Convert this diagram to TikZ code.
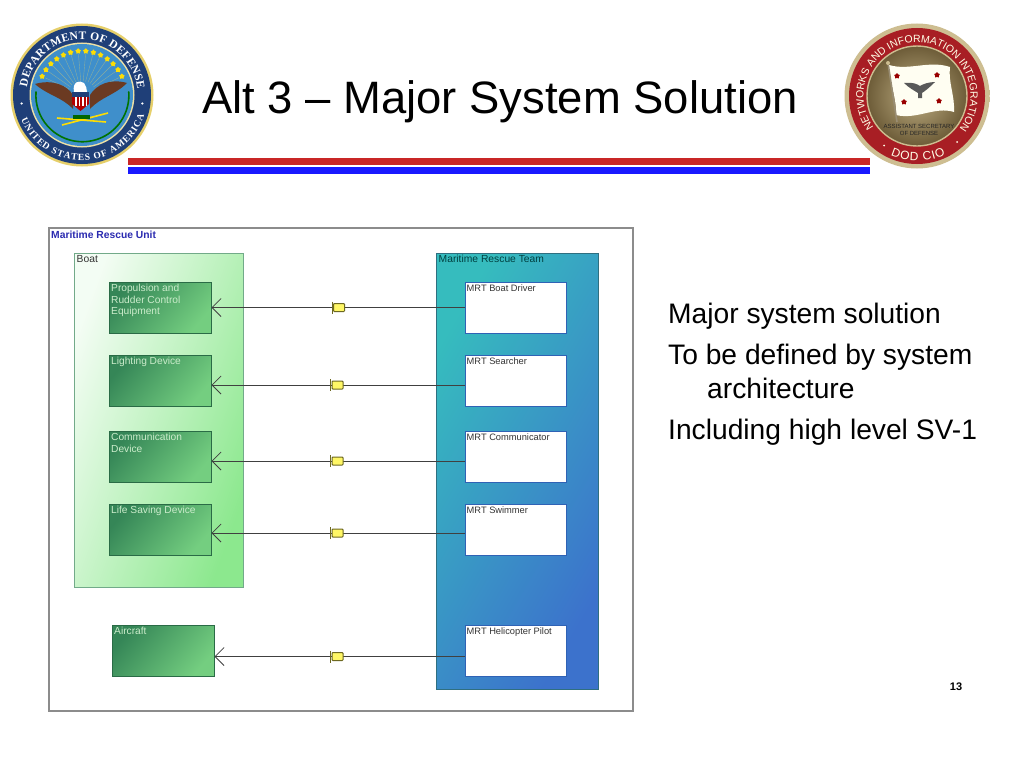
\documentclass[tikz,border=0pt]{standalone}
\usepackage{fontspec}
\setmainfont{Liberation Sans}
\newfontfamily\sealserif{Liberation Serif}
\usetikzlibrary{arrows.meta,decorations.text,shapes.geometric}
\definecolor{dodnavy}{HTML}{1F3F78}
\definecolor{dodblue}{HTML}{3F8FCB}
\definecolor{dodgold}{HTML}{E6CF6A}
\definecolor{ciored}{HTML}{A81E24}
\definecolor{ciogold}{HTML}{CDBD90}
\definecolor{bronze}{HTML}{6D5C38}
\definecolor{eaglebrown}{HTML}{6B3A22}
\definecolor{unitblue}{HTML}{2A2AB0}
\definecolor{boxdark}{HTML}{358657}
\definecolor{boxlight}{HTML}{74CE80}
\definecolor{boatgreen}{HTML}{8CE88E}
\definecolor{teamteal}{HTML}{36BCBE}
\definecolor{teamblue}{HTML}{3C72CC}
\definecolor{teamedge}{HTML}{2F6F80}
\definecolor{mrtedge}{HTML}{2F62B5}
\tikzset{
	greenbox/.style = {draw=boxdark!80!black, line width=1pt, top color=boxdark, bottom color=boxlight, shading angle=50, minimum width=102pt, minimum height=51pt, inner sep=0pt},
	whitebox/.style = {draw=mrtedge, line width=1pt, fill=white, minimum width=101pt, minimum height=51pt, inner sep=0pt},
	boxtext/.style = {anchor=north west, align=left, font=\fontsize{10.2}{11.6}\selectfont, inner sep=0pt, text=green!15!white!85!gray},
	mrttext/.style = {anchor=north west, align=left, font=\fontsize{9.3}{11.6}\selectfont, inner sep=0pt, text=black!80},
	conn/.style = {draw=black!75, line width=1pt, arrows={-{Straight Barb[length=9pt,width=18pt,line width=0.8pt]}}},
	msgicon/.style = {draw=olive!70!black, line width=1pt, fill=yellow!60, rounded corners=0.8pt, minimum width=11pt, minimum height=8pt, inner sep=0pt},
	bodytext/.style = {anchor=base west, font=\fontsize{28.2}{28.2}\selectfont, inner sep=0pt},
	goldstar/.style = {star, star points=5, fill=yellow!80!orange, inner sep=0pt, minimum size=6pt},
	redstar/.style = {star, star points=5, fill=red!60!black, inner sep=0pt, minimum size=6pt}
}
\begin{document}
\begin{tikzpicture}[x=1pt, y=-1pt]
	\useasboundingbox (0,0) rectangle (1024,768);

	\node[anchor=base west, inner sep=0pt, font=\fontsize{45.4}{45.4}\selectfont] (title) at (202,113) {Alt 3 – Major System Solution};
	\fill[red!75!black!85!white] (128,158) rectangle (870,165);
	\fill[blue!90!white] (128,167) rectangle (870,174);

	% left seal
	\begin{scope}[shift={(82,95)}, x=1pt, y=1pt]
		\fill[dodgold] (0,0) circle(71.5pt);
		\fill[dodnavy] (0,0) circle(69pt);
		\fill[dodgold!60] (0,0) circle(52.5pt);
		\fill[dodblue] (0,0) circle(51pt);
		\foreach \a in {25,35,...,155} {
			\draw[dodgold!45!dodblue, line width=0.4pt] (\a:14) -- (\a:41);
			\node[goldstar] at (\a:44) {};
		}
		\draw[green!45!black, line width=1.6pt, line cap=round] (-46,3) arc[start angle=176, end angle=364, radius=46.5pt];
		\fill[eaglebrown] (-47,11) .. controls (-30,16) and (-15,10) .. (-9,0) -- (-9,-14) .. controls (-20,-2) and (-35,0) .. (-47,11);
		\fill[eaglebrown] (45,12) .. controls (28,17) and (14,10) .. (8,0) -- (8,-14) .. controls (19,-2) and (33,0) .. (45,12);
		\fill[white] (-8,3) .. controls (-10,14) and (-2,15) .. (2,12) .. controls (4,9) and (5,6) .. (5,3) -- cycle;
		\fill[dodnavy] (-10,3) rectangle (7,-2);
		\fill[red!70!black] (-10,-2) -- (7,-2) -- (7,-9) -- (-1.5,-16) -- (-10,-9) -- cycle;
		\foreach \sx in {-7,-3.5,0,3.5} {
			\fill[white] (\sx,-2) rectangle ++(1.5,-9);
		}
		\draw[yellow!80!orange, line width=1.6pt] (-25,-23) -- (24,-27);
		\draw[yellow!80!orange, line width=1.6pt] (-20,-30) -- (26,-18);
		\fill[green!40!black] (-9,-20) rectangle (8,-24);
		\draw[decorate, decoration={text along path, text align={fit to path}, text={|\sealserif\bfseries\fontsize{11.5}{11.5}\selectfont\color{white}|DEPARTMENT OF DEFENSE}}] (172:55.5) arc[start angle=172, end angle=6, radius=55.5pt];
		\draw[decorate, decoration={text along path, text align={fit to path}, text={|\sealserif\bfseries\fontsize{9.5}{9.5}\selectfont\color{white}|UNITED STATES OF AMERICA}}] (202:65.5) arc[start angle=202, end angle=342, radius=65.5pt];
		\fill[white] (188:61) circle(1.2pt);
		\fill[white] (-8:61) circle(1.2pt);
	\end{scope}

	% right seal
	\begin{scope}[shift={(917,96)}, x=1pt, y=1pt]
		\shade[inner color=ciogold!60!white, outer color=ciogold] (0,0) circle(72.5pt);
		\fill[ciored] (0,0) circle(68pt);
		\shade[inner color=ciogold!85!bronze, outer color=bronze] (0,0) circle(50pt);
		\draw[ciogold, line width=1.4pt] (0,0) circle(50pt);
		\fill[white!95!yellow] (-28,31) .. controls (-8,25) and (12,36) .. (33,29) .. controls (31,14) and (38,0) .. (37,-16) .. controls (18,-10) and (0,-24) .. (-21,-19) .. controls (-20,-2) and (-28,14) .. cycle;
		\draw[bronze!70!white, line width=1.6pt] (-29,33) -- (-20,-26);
		\fill[ciogold] (-29,33) circle(2pt);
		\node[redstar] at (-20,20) {};
		\node[redstar] at (20,21) {};
		\node[redstar] at (-13,-6) {};
		\node[redstar] at (22,-5) {};
		\fill[black!65] (-13,13) .. controls (-4,14) and (0,12) .. (3,10) .. controls (6,12) and (12,14) .. (18,14) .. controls (12,8) and (8,5) .. (5,3) -- (5,-2) -- (1,-2) -- (1,3) .. controls (-2,5) and (-8,8) .. (-13,13);
		\node[align=center, inner sep=0pt, font=\fontsize{6}{7.5}\selectfont, text=black!85] (office) at (2,-34) {ASSISTANT SECRETARY\\OF DEFENSE};
		\draw[decorate, decoration={text along path, text align={fit to path}, text={|\fontsize{10.5}{10.5}\selectfont\color{white!90!yellow}|NETWORKS AND INFORMATION INTEGRATION}}] (216:53.5) arc[start angle=216, end angle=-36, radius=53.5pt];
		\draw[decorate, decoration={text along path, text align={fit to path}, text={|\fontsize{12}{12}\selectfont\color{white!90!yellow}|DOD CIO}}] (246:65) arc[start angle=246, end angle=296, radius=65pt];
		\fill[white!90!yellow] (-33,-49.5) circle(1pt);
		\fill[white!90!yellow] (40,-46) circle(1pt);
	\end{scope}

	% diagram frame
	\draw[black!45, line width=1.2pt, fill=white] (49,228) rectangle (633,711);
	\node[anchor=west, inner sep=0pt, font=\bfseries\fontsize{10.3}{10.3}\selectfont, text=unitblue] (unit) at (51,234.5) {Maritime Rescue Unit};

	\draw[boxdark!70, line width=1pt, top color=white!90!boatgreen, bottom color=boatgreen, shading angle=70] (74,253) rectangle (243,587);
	\coordinate (boat) at (74,253);
	\node[boxtext, text=black!80, font=\fontsize{10.3}{11.6}\selectfont] (boatText) at ([shift={(2.5,2)}]boat) {Boat};

	\draw[teamedge, line width=1pt, top color=teamteal, bottom color=teamblue, shading angle=60] (436,253) rectangle (598,689);
	\coordinate (team) at (436,253);
	\node[boxtext, text=teal!50!black, font=\fontsize{10.3}{11.6}\selectfont] (teamText) at ([shift={(2.5,2)}]team) {Maritime Rescue Team};

	\node[greenbox] (propulsion) at (160,307.5) {};
	\node[greenbox] (lighting) at (160,380.5) {};
	\node[greenbox] (communication) at (160,456.5) {};
	\node[greenbox] (lifesaving) at (160,529.5) {};
	\node[greenbox] (aircraft) at (163,650.5) {};

	\node[whitebox] (driver) at (515.5,307.5) {};
	\node[whitebox] (searcher) at (515.5,380.5) {};
	\node[whitebox] (communicator) at (515.5,456.5) {};
	\node[whitebox] (swimmer) at (515.5,529.5) {};
	\node[whitebox] (pilot) at (515.5,650.5) {};

	\node[boxtext] (propulsionText) at ([shift={(2.5,2.5)}]propulsion.north west) {Propulsion and\\Rudder Control\\Equipment};
	\node[boxtext] (lightingText) at ([shift={(2.5,2.5)}]lighting.north west) {Lighting Device};
	\node[boxtext] (communicationText) at ([shift={(2.5,2.5)}]communication.north west) {Communication\\Device};
	\node[boxtext] (lifesavingText) at ([shift={(2.5,2.5)}]lifesaving.north west) {Life Saving Device};
	\node[boxtext] (aircraftText) at ([shift={(2.5,2.5)}]aircraft.north west) {Aircraft};

	\node[mrttext] (driverText) at ([shift={(2,3)}]driver.north west) {MRT Boat Driver};
	\node[mrttext] (searcherText) at ([shift={(2,3)}]searcher.north west) {MRT Searcher};
	\node[mrttext] (communicatorText) at ([shift={(2,3)}]communicator.north west) {MRT Communicator};
	\node[mrttext] (swimmerText) at ([shift={(2,3)}]swimmer.north west) {MRT Swimmer};
	\node[mrttext] (pilotText) at ([shift={(2,3)}]pilot.north west) {MRT Helicopter Pilot};

	\coordinate (msgA) at (339,307.5);
	\coordinate (msgB) at (337.5,385);
	\coordinate (msgC) at (337.5,461);
	\coordinate (msgD) at (337.5,533);
	\coordinate (msgE) at (337.5,656.5);

	\draw[conn] (msgA -| driver.west) -- (msgA -| propulsion.east);
	\draw[conn] (msgB -| searcher.west) -- (msgB -| lighting.east);
	\draw[conn] (msgC -| communicator.west) -- (msgC -| communication.east);
	\draw[conn] (msgD -| swimmer.west) -- (msgD -| lifesaving.east);
	\draw[conn] (msgE -| pilot.west) -- (msgE -| aircraft.east);

	\node[msgicon] (iconA) at (msgA) {};
	\node[msgicon] (iconB) at (msgB) {};
	\node[msgicon] (iconC) at (msgC) {};
	\node[msgicon] (iconD) at (msgD) {};
	\node[msgicon] (iconE) at (msgE) {};
	\draw[olive!70!black, line width=1pt] ([shift={(-1,-1.5)}]iconA.north west) -- ([shift={(-1,1.5)}]iconA.south west);
	\draw[olive!70!black, line width=1pt] ([shift={(-1,-1.5)}]iconB.north west) -- ([shift={(-1,1.5)}]iconB.south west);
	\draw[olive!70!black, line width=1pt] ([shift={(-1,-1.5)}]iconC.north west) -- ([shift={(-1,1.5)}]iconC.south west);
	\draw[olive!70!black, line width=1pt] ([shift={(-1,-1.5)}]iconD.north west) -- ([shift={(-1,1.5)}]iconD.south west);
	\draw[olive!70!black, line width=1pt] ([shift={(-1,-1.5)}]iconE.north west) -- ([shift={(-1,1.5)}]iconE.south west);

	\node[bodytext] (lineA) at (668,323) {Major system solution};
	\node[bodytext] (lineB) at (668,364) {To be defined by system};
	\node[bodytext] (lineC) at (707,398) {architecture};
	\node[bodytext] (lineD) at (668,439) {Including high level SV-1};
	\node[anchor=base, inner sep=0pt, font=\bfseries\fontsize{11}{11}\selectfont] (page) at (956,690) {13};
\end{tikzpicture}
\end{document}
